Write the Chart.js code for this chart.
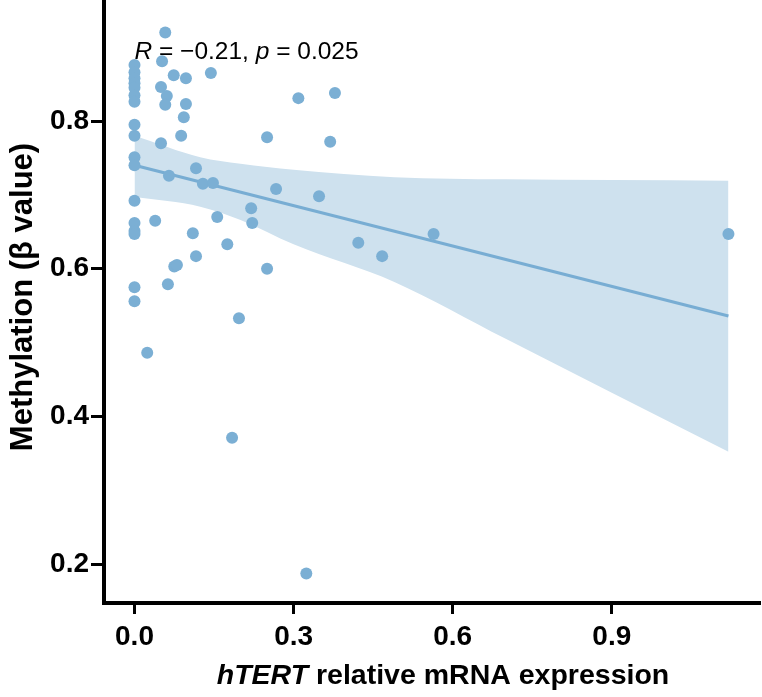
<!DOCTYPE html>
<html>
<head>
<meta charset="utf-8">
<script src="https://cdn.jsdelivr.net/npm/chart.js@4.4.1/dist/chart.umd.min.js"></script>
<style>
    body { margin: 0; background: #fff; }
    #chart { display: block; }
</style>
</head>
<body>
<canvas id="chart" width="762" height="697"></canvas>
<script>
// Données
const EXPR = [
    0, 0, 0, 0, 0, 0, 0, 0, 0, 0, 0, 0, 0, 0, 0, 0, 0,
    0.058, 0.052, 0.074, 0.097, 0.144, 0.050, 0.061, 0.058, 0.097, 0.093,
    0.088, 0.050, 0.116, 0.065, 0.129, 0.148, 0.156, 0.039, 0.110, 0.175,
    0.116, 0.075, 0.080, 0.063, 0.197, 0.024, 0.309, 0.378, 0.250, 0.369,
    0.267, 0.348, 0.220, 0.222, 0.422, 0.467, 0.250, 0.564, 1.120, 0.184, 0.324
];
const METH = [
    0.876, 0.866, 0.858, 0.851, 0.845, 0.835, 0.826, 0.795, 0.780, 0.751, 0.740, 0.692, 0.662, 0.651, 0.647, 0.575, 0.556,
    0.920, 0.881, 0.862, 0.858, 0.865, 0.846, 0.834, 0.822, 0.823, 0.805,
    0.780, 0.770, 0.736, 0.726, 0.715, 0.716, 0.670, 0.665, 0.648, 0.633,
    0.617, 0.603, 0.605, 0.579, 0.533, 0.486, 0.831, 0.838, 0.778, 0.772,
    0.708, 0.698, 0.682, 0.662, 0.635, 0.617, 0.600, 0.647, 0.647, 0.371, 0.187
];

// Droite de régression et intervalle de confiance
const FIT_X = [0, 1.12];
const FIT_Y = [0.740, 0.536];
const BAND_X = [0, 0.124, 0.2, 0.3, 0.49, 0.7, 0.9, 1.12];
const BAND_UPPER = [0.780, 0.751, 0.742, 0.734, 0.724, 0.721, 0.720, 0.719];
const BAND_LOWER = [0.697, 0.684, 0.666, 0.633, 0.582, 0.505, 0.432, 0.352];

// Graduations
const X_TICKS = [0, 0.3, 0.6, 0.9];
const Y_TICKS = [0.2, 0.4, 0.6, 0.8];

const FONT = '"Liberation Sans", Arial, sans-serif';
const BLUE = '#7BAFD4';

function pairs(xs, ys) {
    return xs.map(function(x, i) { return { x: x, y: ys[i] }; });
}

// Pas de marge automatique autour des axes
function noPadding(scale) {
    scale.paddingTop = 0;
    scale.paddingBottom = 0;
    scale.paddingLeft = 0;
    scale.paddingRight = 0;
}

// Textes : titres des axes et annotation
const textPlugin = {
    id: 'textes',
    afterDraw: function(chart) {
        const ctx = chart.ctx;
        ctx.save();
        ctx.fillStyle = '#000';
        ctx.textBaseline = 'alphabetic';

        // Titre de l'axe Y
        ctx.save();
        ctx.translate(32, 297);
        ctx.rotate(-Math.PI / 2);
        ctx.font = 'bold 31px ' + FONT;
        ctx.textAlign = 'center';
        ctx.fillText('Methylation (β value)', 0, 0);
        ctx.restore();

        // Titre de l'axe X (hTERT en italique)
        ctx.textAlign = 'left';
        const part1 = 'hTERT';
        const part2 = ' relative mRNA expression';
        ctx.font = 'italic bold 28.5px ' + FONT;
        const w1 = ctx.measureText(part1).width;
        ctx.font = 'bold 28.5px ' + FONT;
        const w2 = ctx.measureText(part2).width;
        let x = 443 - (w1 + w2) / 2;
        ctx.font = 'italic bold 28.5px ' + FONT;
        ctx.fillText(part1, x, 684);
        ctx.font = 'bold 28.5px ' + FONT;
        ctx.fillText(part2, x + w1, 684);

        // Annotation R / p
        const pieces = [
            ['R', true], [' = \u22120.21, ', false], ['p', true], [' = 0.025', false]
        ];
        x = chart.scales.x.getPixelForValue(0);
        pieces.forEach(function(p) {
            ctx.font = (p[1] ? 'italic ' : '') + '24.5px ' + FONT;
            ctx.fillText(p[0], x, 59);
            x += ctx.measureText(p[0]).width;
        });
        ctx.restore();
    }
};

const axisGrid = {
    display: true,
    drawOnChartArea: false,
    drawTicks: true,
    tickWidth: 3,
    tickColor: '#000'
};

new Chart(document.getElementById('chart'), {
    type: 'scatter',
    data: {
        datasets: [
            {
                label: 'points',
                data: pairs(EXPR, METH),
                backgroundColor: BLUE,
                borderWidth: 0,
                pointRadius: 6,
                clip: false
            },
            {
                label: 'fit',
                type: 'line',
                data: pairs(FIT_X, FIT_Y),
                borderColor: '#78ADD3',
                borderWidth: 3,
                pointRadius: 0,
                fill: false
            },
            {
                label: 'upper',
                type: 'line',
                data: pairs(BAND_X, BAND_UPPER),
                borderWidth: 0,
                borderColor: 'rgba(0,0,0,0)',
                backgroundColor: '#CEE1EE',
                pointRadius: 0,
                cubicInterpolationMode: 'monotone',
                fill: '+1'
            },
            {
                label: 'lower',
                type: 'line',
                data: pairs(BAND_X, BAND_LOWER),
                borderWidth: 0,
                borderColor: 'rgba(0,0,0,0)',
                pointRadius: 0,
                cubicInterpolationMode: 'monotone',
                fill: false
            }
        ]
    },
    options: {
        responsive: false,
        animation: false,
        layout: {
            autoPadding: false,
            padding: { top: 0, right: 2, bottom: 0, left: 0 }
        },
        plugins: {
            legend: { display: false },
            tooltip: { enabled: false }
        },
        scales: {
            x: {
                type: 'linear',
                min: -0.0575,
                max: 1.1795,
                afterBuildTicks: function(scale) {
                    scale.ticks = X_TICKS.map(function(v) { return { value: v }; });
                },
                afterFit: function(scale) {
                    scale.height = 94;
                    noPadding(scale);
                },
                ticks: {
                    callback: function(v) { return v.toFixed(1); },
                    font: { family: FONT, size: 28, weight: 'bold' },
                    color: '#000',
                    padding: 6,
                    maxRotation: 0,
                    autoSkip: false
                },
                grid: Object.assign({ tickLength: 11 }, axisGrid),
                border: { display: true, width: 4, color: '#000' }
            },
            y: {
                type: 'linear',
                min: 0.1472,
                max: 0.9639,
                afterBuildTicks: function(scale) {
                    scale.ticks = Y_TICKS.map(function(v) { return { value: v }; });
                },
                afterFit: function(scale) {
                    scale.width = 104;
                    noPadding(scale);
                },
                ticks: {
                    callback: function(v) { return v.toFixed(1); },
                    font: { family: FONT, size: 28, weight: 'bold' },
                    color: '#000',
                    padding: 2,
                    autoSkip: false
                },
                grid: Object.assign({ tickLength: 13 }, axisGrid),
                border: { display: true, width: 4, color: '#000' }
            }
        }
    },
    plugins: [textPlugin]
});
</script>
</body>
</html>
